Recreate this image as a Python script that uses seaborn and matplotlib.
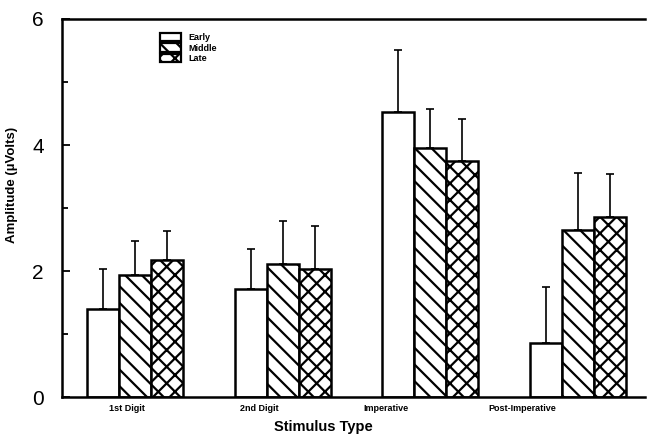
import numpy as np
import pandas as pd
import matplotlib
matplotlib.use("Agg")
import matplotlib.pyplot as plt
from matplotlib.patches import Patch
import seaborn as sns

categories = ["1st Digit", "2nd Digit", "Imperative", "Post-Imperative"]
phases = ["Early", "Middle", "Late"]
early = [1.40, 1.71, 4.52, 0.86]
middle = [1.94, 2.11, 3.96, 2.65]
late = [2.18, 2.03, 3.75, 2.85]
early_err = [0.63, 0.64, 0.99, 0.88]
middle_err = [0.54, 0.68, 0.61, 0.91]
late_err = [0.46, 0.69, 0.66, 0.69]
yticks = [0, 2, 4, 6]

sns.set_theme(style="white")
plt.rcParams["font.family"] = ["Liberation Sans", "DejaVu Sans"]
plt.rcParams["hatch.linewidth"] = 1.6
plt.rcParams["hatch.color"] = "black"
plt.rcParams["text.color"] = "black"
plt.rcParams["axes.labelcolor"] = "black"

means = {"Early": early, "Middle": middle, "Late": late}
errs = {"Early": early_err, "Middle": middle_err, "Late": late_err}
rows = []
for p in phases:
    for c, v in zip(categories, means[p]):
        rows.append({"Stimulus": c, "Phase": p, "Amplitude": v})
df = pd.DataFrame(rows)

fig = plt.figure(figsize=(6.47, 4.36), dpi=100)
ax = fig.add_axes([62 / 647, 1 - 397 / 436, 583 / 647, 378 / 436])

sns.barplot(data=df, x="Stimulus", y="Amplitude", hue="Phase",
            order=categories, hue_order=phases,
            palette=["white"] * 3, width=0.65, errorbar=None,
            edgecolor="black", linewidth=1.8, saturation=1, ax=ax, legend=False)

hatches = ["", "\\\\", "xx"]
for cont, h, p in zip(ax.containers, hatches, phases):
    xs, ys = [], []
    for bar in cont:
        bar.set_hatch(h)
        bar.set_edgecolor("black")
        xs.append(bar.get_x() + bar.get_width() / 2)
        ys.append(bar.get_height())
    e = errs[p]
    ax.errorbar(xs, ys, yerr=[np.zeros(len(e)), e], fmt="none",
                ecolor="black", elinewidth=1.2, capsize=2.6, capthick=1.2, zorder=1)

ax.set_ylim(0, 6)
ax.set_xlim(-0.497, 3.455)
ax.set_yticks(yticks)
ax.set_yticklabels([str(t) for t in yticks], fontsize=15)
ax.set_yticks([1, 3, 5], minor=True)
ax.tick_params(axis="y", which="major", direction="in", length=6, width=1.3,
               left=True, pad=13, colors="black")
ax.tick_params(axis="y", which="minor", direction="in", length=4, width=1.3,
               left=True, colors="black")

label_offsets = [-0.06, -0.16, -0.30, -0.38]
ax.set_xticks(np.arange(len(categories)) + np.array(label_offsets))
ax.set_xticklabels(categories, fontsize=6.5, fontweight="bold")
ax.tick_params(axis="x", length=0, pad=5, colors="black")

ax.set_xlabel("Stimulus Type", fontsize=10.5, fontweight="bold", color="black")
ax.set_ylabel("Amplitude (\u00b5Volts)", fontsize=9.5, fontweight="bold", color="black")
ax.xaxis.set_label_coords(0.448, -0.06)
ax.yaxis.set_label_coords(-0.075, 0.56)

for s in ["left", "bottom", "top"]:
    ax.spines[s].set_visible(True)
    ax.spines[s].set_color("black")
    ax.spines[s].set_linewidth(1.8)
ax.spines["right"].set_visible(False)

handles = [Patch(facecolor="white", edgecolor="black", hatch=h, linewidth=1.6, label=p)
           for h, p in zip(hatches, phases)]
ax.legend(handles=handles, loc="upper left", bbox_to_anchor=(0.16, 0.975),
          frameon=False, prop={"size": 6.5, "weight": "bold"}, labelcolor="black",
          handlelength=2.4, handleheight=1.0, labelspacing=0.15, handletextpad=0.8,
          borderpad=0)

fig.savefig("out.png", dpi=100)
